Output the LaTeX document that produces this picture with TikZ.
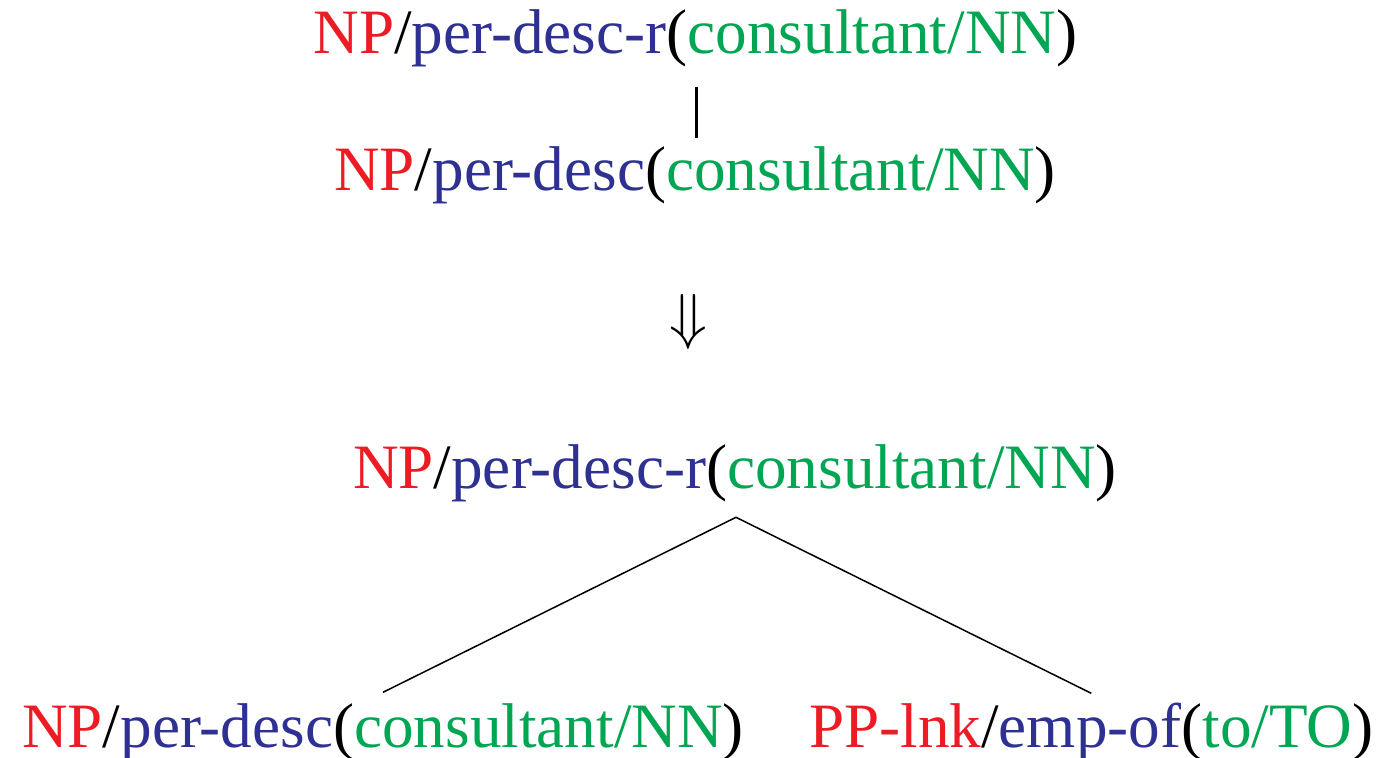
\documentclass[tikz,border=0pt]{standalone}
\usepackage{graphicx}
\usepackage{fontspec}
\setmainfont{Liberation Serif}
\definecolor{tagred}{RGB}{237,28,36}
\definecolor{relblue}{RGB}{46,49,146}
\definecolor{wordgreen}{RGB}{0,166,81}
\newcommand{\tagtxt}[1]{\textcolor{tagred}{#1}}
\newcommand{\reltxt}[1]{\textcolor{relblue}{#1}}
\newcommand{\wordtxt}[1]{\textcolor{wordgreen}{#1}}
\begin{document}
\begin{tikzpicture}[x=0.5pt,y=-0.5pt,
  lbl/.style={inner sep=0pt,anchor=base,font=\fontsize{31.6}{38}\selectfont},
  stem/.style={line width=1.2pt,black},
  branch/.style={line width=0.75pt,black}]
\useasboundingbox (0,0) rectangle (1378,757);

% unary rule: relation node over its head
\node[lbl] (top) at (695.4,53.3) {\tagtxt{NP}/\reltxt{per-desc-r}(\wordtxt{consultant/NN})};
\node[lbl] (mid) at (695,190.7) {\tagtxt{NP}/\reltxt{per-desc}(\wordtxt{consultant/NN})};
\draw[stem] ([xshift=0.6pt,yshift=-17pt]top.base) -- ([xshift=0.8pt,yshift=26.3pt]mid.base);

% rewrite arrow
\node[inner sep=0pt] (arr) at (688,322) {\scalebox{3.1}{$\Downarrow$}};

% binary rule after rewriting
\node[lbl] (par) at (735,488.3) {\tagtxt{NP}/\reltxt{per-desc-r}(\wordtxt{consultant/NN})};
\node[lbl] (lc) at (383,747.3) {\tagtxt{NP}/\reltxt{per-desc}(\wordtxt{consultant/NN})};
\node[lbl] (rc) at (1091.3,747.3) {\tagtxt{PP-lnk}/\reltxt{emp-of}(\wordtxt{to/TO})};
\coordinate (apex) at ([xshift=0.5pt,yshift=-14.5pt]par.base);
\draw[branch] (apex) -- ([yshift=27.5pt]lc.base);
\draw[branch] (apex) -- ([yshift=27pt]rc.base);
\end{tikzpicture}
\end{document}
